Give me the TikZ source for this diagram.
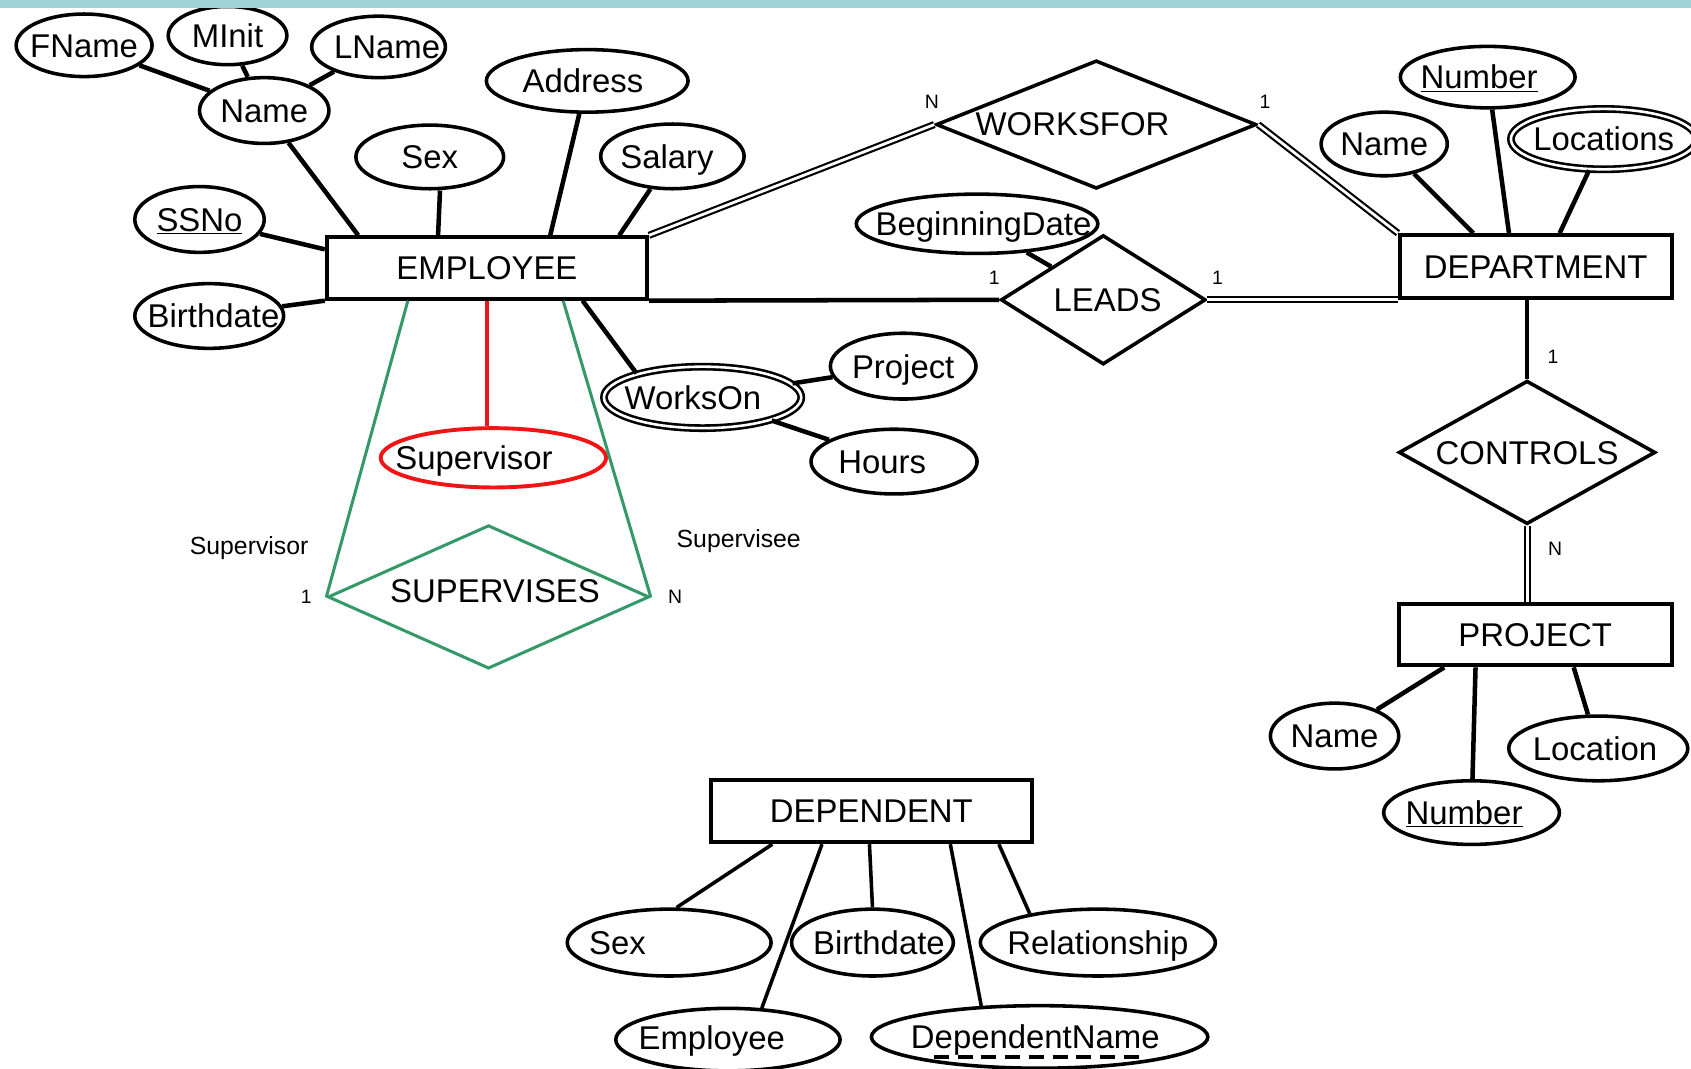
\documentclass[tikz,border=0pt]{standalone}
\usepackage{fontspec}
\setmainfont{Liberation Sans}
\usetikzlibrary{shapes.geometric,calc}
\definecolor{stripteal}{RGB}{160,212,216}
\definecolor{rolegreen}{RGB}{52,152,104}
\definecolor{keyred}{RGB}{240,20,20}

\begin{document}
\begin{tikzpicture}[x=1pt,y=-1pt,
  every node/.style={font=\fontsize{30.5}{36}\selectfont},
  every label/.style={inner sep=0pt, text height=22pt, text depth=0pt},
  entity/.style={draw, rectangle, line width=3.6pt, inner sep=0pt, text height=22pt, text depth=0pt},
  attr/.style={draw, ellipse, line width=3.3pt, inner sep=0pt},
  multi/.style={draw, ellipse, double, double distance=2.4pt, line width=2.4pt, inner sep=0pt},
  rel/.style={draw, diamond, line width=3.3pt, inner sep=0pt},
  link/.style={line width=4.2pt},
  thinlink/.style={line width=3.3pt},
  dlink/.style={double, double distance=2.6pt, line width=2pt},
  card/.style={font=\fontsize{18}{20}\selectfont, inner sep=0pt},
  role/.style={font=\fontsize{23}{26}\selectfont, inner sep=0pt},
]
\useasboundingbox (0,0) rectangle (1568,991);
\clip (0,0) rectangle (1568,991);
\fill[white] (0,0) rectangle (1568,991);

% ---------- EMPLOYEE and its attributes ----------
\node[entity, minimum width=297pt, minimum height=57pt] (emp) at (451.5,248.5) {EMPLOYEE};
\node[attr, minimum width=126pt, minimum height=58pt, label=center:FName] (fname) at (78,42) {};
\node[attr, minimum width=110pt, minimum height=54pt, label=center:MInit] (minit) at (211,33) {};
\node[attr, minimum width=124pt, minimum height=57pt, label={[xshift=8pt]center:LName}] (lname) at (351,43.5) {};
\node[attr, minimum width=120pt, minimum height=61pt, label=center:Name] (ename) at (245,102.5) {};
\node[attr, minimum width=187pt, minimum height=58pt, label={[xshift=-4pt]center:Address}] (addr) at (544.5,75) {};
\node[attr, minimum width=137pt, minimum height=59pt, label=center:Sex] (esex) at (398.5,145.5) {};
\node[attr, minimum width=133pt, minimum height=60pt, label={[xshift=-5pt]center:Salary}] (sal) at (623.5,145) {};
\node[attr, minimum width=120pt, minimum height=61pt, label={center:\underline{SSNo}}] (ssn) at (185,203.5) {};
\node[attr, minimum width=138pt, minimum height=60pt, label={[xshift=4pt]center:Birthdate}] (ebd) at (194,293) {};

\draw[link] (fname) -- (ename);
\draw[link] (minit) -- (ename);
\draw[link] (lname) -- (ename);
\draw[link] (ename) -- ($(emp.north west)+(31,0)$);
\draw[link] ($(esex.south)+(9.5,0)$) -- ($(emp.north west)+(105,0)$);
\draw[link] (addr) -- ($(emp.north west)+(209,0)$);
\draw[link] (sal) -- ($(emp.north west)+(273,0)$);
\draw[link] (ssn) -- ($(emp.north west)+(0,13)$);
\draw[link] (ebd) -- (emp.south west);

% ---------- WorksOn ----------
\node[multi, minimum width=183pt, minimum height=57pt, label={[xshift=-9pt]center:WorksOn}] (works) at (651.5,368.5) {};
\node[attr, minimum width=135pt, minimum height=61pt, label=center:Project] (proj1) at (837.5,339.5) {};
\node[attr, minimum width=154pt, minimum height=60pt, label={[xshift=-11pt]center:Hours}] (hours) at (829,428) {};
\draw[link] ($(emp.south west)+(239,0)$) -- (works.160);
\draw[link] (works) -- (proj1);
\draw[link] (works) -- (hours);

% ---------- Supervision ----------
\node[attr, draw=keyred, line width=3.6pt, minimum width=209pt, minimum height=55pt,
      label={[xshift=-18pt]center:Supervisor}] (supv) at (457.5,424.5) {};
\draw[keyred, line width=4.2pt] (emp.south) -- (emp.south |- supv.north);

\node[rel, draw=rolegreen, line width=2.8pt, minimum width=298pt, minimum height=133pt,
      label={[xshift=6pt,yshift=6pt]center:SUPERVISES}] (supervises) at (453,553.5) {};
\draw[rolegreen, line width=2.8pt] ($(emp.south west)+(77,0)$) -- (supervises.west);
\draw[rolegreen, line width=2.8pt] ($(emp.south west)+(221,0)$) -- (supervises.east);
\node[role] (rsup) at (231,508) {Supervisor};
\node[role] (rsee) at (685,502) {Supervisee};
\node[card] (c1s) at (284,553) {1};
\node[card] (cns) at (626,553) {N};

% ---------- DEPARTMENT ----------
\node[entity, minimum width=252pt, minimum height=58pt] (dept) at (1424,247) {DEPARTMENT};
\node[attr, minimum width=162pt, minimum height=57pt, label={[xshift=-8pt]center:\underline{Number}}] (dnum) at (1379.5,71.5) {};
\node[attr, minimum width=117pt, minimum height=59pt, label=center:Name] (dname) at (1283.5,133.5) {};
\node[multi, minimum width=172pt, minimum height=56pt, label=center:Locations] (locs) at (1487,129) {};
\draw[link] (dname) -- ($(dept.north west)+(70,0)$);
\draw[link] (dnum) -- ($(dept.north west)+(103,0)$);
\draw[link] (locs) -- ($(dept.north west)+(150,0)$);

% ---------- WORKSFOR ----------
\node[rel, minimum width=297pt, minimum height=119pt, label={[xshift=-22pt,yshift=1pt]center:WORKSFOR}] (wf) at (1016.5,115.5) {};
\draw[dlink] (emp.north east) -- (wf.west);
\draw[dlink] (wf.east) -- (dept.north west);
\node[card] (cwfn) at (864,94) {N};
\node[card] (cwf1) at (1173,94) {1};

% ---------- LEADS ----------
\node[rel, minimum width=190pt, minimum height=120pt, label={[xshift=4pt]center:LEADS}] (leads) at (1023,278) {};
\node[attr, minimum width=224pt, minimum height=55pt, label={[xshift=6pt]center:BeginningDate}] (bdate) at (906,207.5) {};
\draw[link] (emp.south east) -- (leads.west);
\draw[link] (bdate) -- (leads.north west);
\draw[dlink] (leads.east) -- (leads.east -| dept.west);
\node[card] (cl1) at (922,258) {1};
\node[card] (cl2) at (1129,258) {1};

% ---------- CONTROLS and PROJECT ----------
\node[rel, minimum width=238pt, minimum height=133pt, label=center:CONTROLS] (ctrl) at (1416,419.5) {};
\node[entity, minimum width=253pt, minimum height=57pt] (proj) at (1423.5,588.5) {PROJECT};
\draw[link] (ctrl.north) -- (ctrl.north |- dept.south);
\draw[dlink] (ctrl.south) -- (ctrl.south |- proj.north);
\node[card] (cc1) at (1440,331) {1};
\node[card] (ccn) at (1442,509) {N};

\node[attr, minimum width=119pt, minimum height=61pt, label=center:Name] (pname) at (1237.5,682.5) {};
\node[attr, minimum width=166pt, minimum height=60pt, label={[xshift=-3pt]center:Location}] (ploc) at (1482,694) {};
\node[attr, minimum width=163pt, minimum height=59pt, label={[xshift=-7pt]center:\underline{Number}}] (pnum) at (1364.5,753.5) {};
\draw[link] (pname) -- ($(proj.south west)+(44,0)$);
\draw[link] (pnum) -- ($(proj.south west)+(73,0)$);
\draw[link] (ploc) -- ($(proj.south west)+(164,0)$);

% ---------- DEPENDENT ----------
\node[entity, minimum width=298pt, minimum height=58pt] (dep) at (808,752) {DEPENDENT};
\node[attr, minimum width=189pt, minimum height=62pt, label={[xshift=-48pt]center:Sex}] (dsex) at (620.5,874) {};
\node[attr, minimum width=150pt, minimum height=62pt, label={[xshift=6pt]center:Birthdate}] (dbd) at (809,874) {};
\node[attr, minimum width=218pt, minimum height=62pt, label=center:Relationship] (drel) at (1018,874) {};
\node[attr, minimum width=208pt, minimum height=58pt, label={[xshift=-15pt,yshift=2pt]center:Employee}] (demp) at (675,964) {};
\node[attr, minimum width=312pt, minimum height=58pt, label={[xshift=-4pt]center:DependentName}] (dnm) at (964,961.5) {};
\draw[line width=3.2pt, dash pattern=on 14pt off 8pt] ($(dnm)+(-98,18.5)$) -- ($(dnm)+(98,18.5)$);

\draw[thinlink] ($(dep.south west)+(59,0)$) -- (dsex.78);
\draw[thinlink] ($(dep.south west)+(105,0)$) -- (demp.43);
\draw[thinlink] ($(dep.south west)+(149,0)$) -- (dbd.north);
\draw[thinlink] ($(dep.south west)+(224,0)$) -- (dnm.152);
\draw[thinlink] ($(dep.south west)+(269,0)$) -- (drel.157);

% top band
\fill[stripteal] (0,0) rectangle (1568,7);
\end{tikzpicture}
\end{document}
